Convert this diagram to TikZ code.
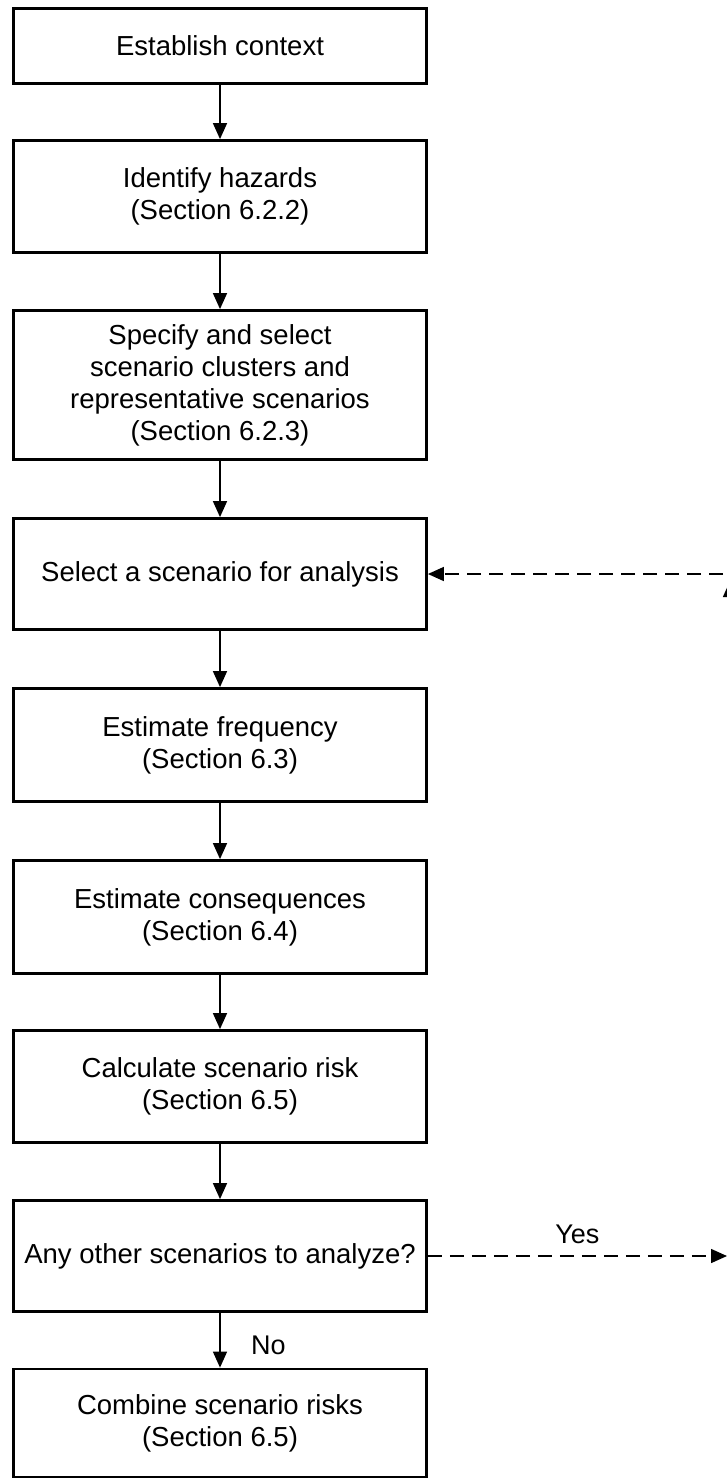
\documentclass[tikz,border=0pt]{standalone}
\usepackage{fontspec}
\setmainfont{Liberation Sans}
\usetikzlibrary{arrows.meta}

\begin{document}
\begin{tikzpicture}[x=1pt, y=-1pt,
    stepbox/.style={draw, line width=2.8pt, minimum width=413pt, inner sep=0pt, align=center, font=\fontsize{27.5}{32}\selectfont},
    flow/.style={-{Triangle[width=14pt, length=16pt]}, line width=1.5pt},
    dashflow/.style={flow, dash pattern=on 14pt off 8pt},
    answer/.style={font=\fontsize{27}{32}\selectfont}]
  \useasboundingbox (0, 0) rectangle (727, 1479);

  % Steps
  \node[stepbox, minimum height=75pt] (ctx) at (220, 46) {Establish context};
  \node[stepbox, minimum height=112pt] (haz) at (220, 196.5) {Identify hazards\\(Section 6.2.2)};
  \node[stepbox, minimum height=149pt] (spec) at (220, 385) {Specify and select\\scenario clusters and\\representative scenarios\\(Section 6.2.3)};
  \node[stepbox, minimum height=111pt] (sel) at (220, 574) {Select a scenario for analysis};
  \node[stepbox, minimum height=113pt] (freq) at (220, 745) {Estimate frequency\\(Section 6.3)};
  \node[stepbox, minimum height=113pt] (cons) at (220, 917) {Estimate consequences\\(Section 6.4)};
  \node[stepbox, minimum height=112pt] (risk) at (220, 1086.5) {Calculate scenario risk\\(Section 6.5)};
  \node[stepbox, minimum height=111pt] (any) at (220, 1256) {Any other scenarios to analyze?};
  \node[stepbox, minimum height=108pt] (comb) at (220, 1423) {Combine scenario risks\\(Section 6.5)};

  % Main flow
  \draw[flow] (ctx) to (haz);
  \draw[flow] (haz) to (spec);
  \draw[flow] (spec) to (sel);
  \draw[flow] (sel) to (freq);
  \draw[flow] (freq) to (cons);
  \draw[flow] (cons) to (risk);
  \draw[flow] (risk) to (any);
  \draw[flow] (any) to node[pos=0.6, right=27pt, answer] {No} (comb);

  % Loop back (runs off the right edge)
  \coordinate (yes) at (727, 1256);
  \coordinate (back) at (745, 574);
  \coordinate (upfoot) at (730, 1230);
  \coordinate (uptip) at (730, 581);
  \draw[dashflow] (any) to node[midway, above=8pt, answer] {Yes} (yes);
  \draw[dashflow] (back) to (sel);
  \draw[dashflow] (upfoot) to (uptip);
\end{tikzpicture}
\end{document}
